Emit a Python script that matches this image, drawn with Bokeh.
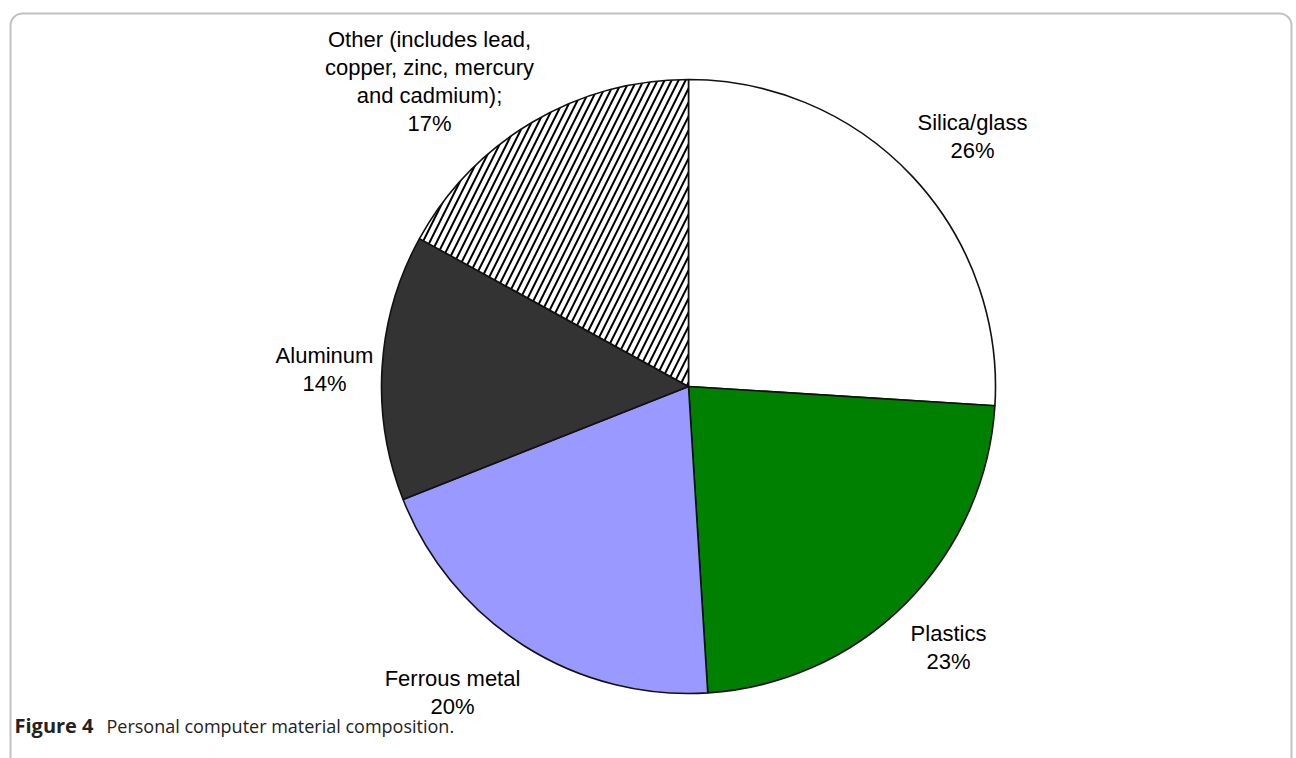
import math
from bokeh.plotting import figure
from bokeh.models import Range1d, BoxAnnotation, ColumnDataSource
from bokeh.core.properties import value
from bokeh.embed import file_html
from bokeh.resources import INLINE

# ---- data ----
materials = ["Silica/glass", "Plastics", "Ferrous metal", "Aluminum", "Other"]
percents = [26, 23, 20, 14, 17]
label_lines = [
    ["Silica/glass", "26%"],
    ["Plastics", "23%"],
    ["Ferrous metal", "20%"],
    ["Aluminum", "14%"],
    ["Other (includes lead,", "copper, zinc, mercury", "and cadmium);", "17%"],
]
caption_bold = "Figure 4"
caption_rest = "Personal computer material composition."

# ---- styles / layout ----
colors = ["#ffffff", "#008000", "#9999ff", "#333333", "#ffffff"]
hatches = [" ", " ", " ", " ", "/"]
W, H = 1296, 758
cx, cy, R = 688, 372, 307
label_anchor = [(972, 622), (948, 111), (452, 66), (324, 389), (429, 677)]
line_h = 28
label_font = value("Liberation Sans")

p = figure(width=W, height=H, output_backend="svg", toolbar_location=None,
           x_range=Range1d(0, W), y_range=Range1d(0, H),
           x_axis_type=None, y_axis_type=None, min_border=0,
           outline_line_color=None, background_fill_color="white",
           border_fill_color="white")
p.grid.visible = False

total = sum(percents)
starts, ends = [], []
cum = 0
for v in percents:
    starts.append(math.pi / 2 - 2 * math.pi * cum / total)
    cum += v
    ends.append(math.pi / 2 - 2 * math.pi * cum / total)

src = ColumnDataSource(dict(material=materials, pct=percents, start=starts, end=ends,
                            color=colors, hatch=hatches))
p.wedge(x=cx, y=cy, radius=R, start_angle="start", end_angle="end", direction="clock",
        fill_color="color", line_color="#111111", line_width=1.6,
        hatch_pattern="hatch", hatch_color="black", hatch_weight=2, hatch_scale=14,
        source=src)

tx, ty, tt = [], [], []
for (ax, ay), lines in zip(label_anchor, label_lines):
    n = len(lines)
    for i, s in enumerate(lines):
        tx.append(ax)
        ty.append(ay + (n - 1) / 2 * line_h - i * line_h)
        tt.append(s)
p.text(x=tx, y=ty, text=tt, text_align="center", text_baseline="middle",
       text_font=label_font, text_font_size="22px", text_color="black")

# caption
p.text(x=[14], y=[33], text=[caption_bold], text_align="left", text_baseline="middle",
       text_font=value("Open Sans"), text_font_style="bold", text_font_size="20px",
       text_color="#222222")
p.text(x=[106], y=[33], text=[caption_rest], text_align="left", text_baseline="middle",
       text_font=value("Open Sans"), text_font_size="18px", text_color="#222222")

# rounded frame
p.add_layout(BoxAnnotation(left=10, right=1291, top=745, bottom=-30,
                           fill_alpha=0, line_color="#333333", line_width=2,
                           border_radius=12))

open("out.html", "w").write(file_html(p, INLINE))
